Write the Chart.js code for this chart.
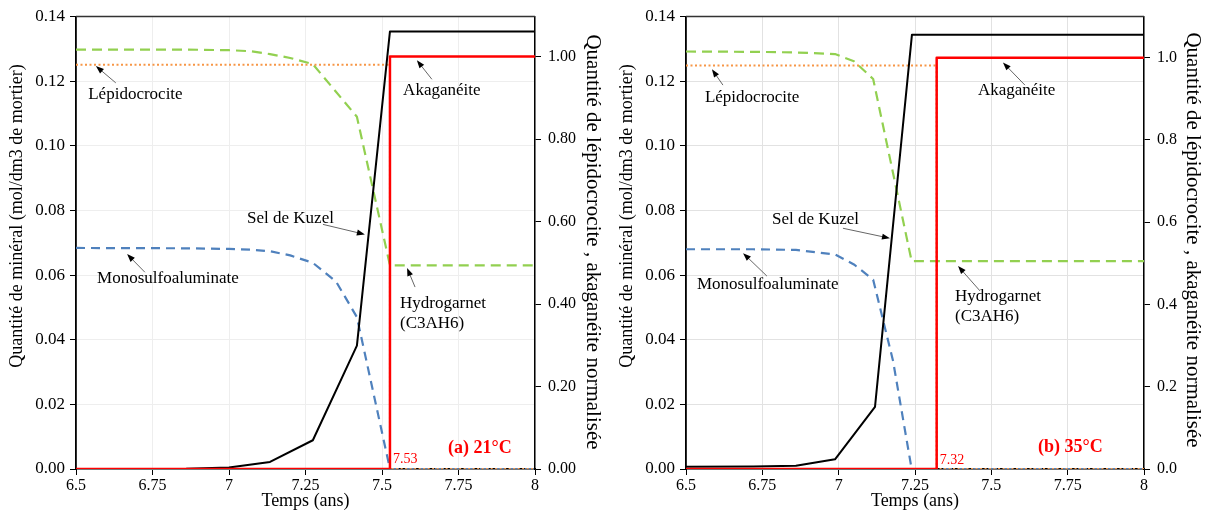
<!DOCTYPE html>
<html>
<head>
<meta charset="utf-8">
<script src="https://cdn.jsdelivr.net/npm/chart.js@4.4.1/dist/chart.umd.min.js"></script>
<style>
  html, body { margin: 0; padding: 0; background: #fff; }
  #wrap { position: relative; width: 1210px; height: 518px; }
  .panel { position: absolute; top: 0; width: 605px; height: 518px; }
</style>
</head>
<body>
<div id="wrap">
  <div class="panel" style="left:0"><canvas id="chartA" width="605" height="518"></canvas></div>
  <div class="panel" style="left:605px"><canvas id="chartB" width="605" height="518"></canvas></div>
</div>
<script>
// ---- axes ----
const xTicks = [6.5, 6.75, 7, 7.25, 7.5, 7.75, 8];
const leftTicks = [0, 0.02, 0.04, 0.06, 0.08, 0.10, 0.12, 0.14];
const rightTicks = [0, 0.2, 0.4, 0.6, 0.8, 1.0];

// ---- (a) 21°C ----
const kuzelA_t = [6.5, 6.86, 7.0, 7.134, 7.274, 7.418, 7.526, 8];
const kuzelA_q = [0, 0.0001, 0.0005, 0.0022, 0.0089, 0.0382, 0.1354, 0.1354];
const hydroA_t = [6.5, 6.86, 7.0, 7.07, 7.134, 7.2, 7.274, 7.418, 7.526, 8];
const hydroA_q = [0.1298, 0.1298, 0.1296, 0.1293, 0.1284, 0.1272, 0.1253, 0.1090, 0.0630, 0.0630];
const monoA_t = [6.5, 6.86, 7.0, 7.07, 7.134, 7.2, 7.274, 7.35, 7.418, 7.526, 8];
const monoA_q = [0.0684, 0.0683, 0.0681, 0.0679, 0.0674, 0.0661, 0.0638, 0.0580, 0.0470, 0, 0];
const lepidoA_t = [6.5, 7.526, 7.526, 8];
const lepidoA_q = [0.9805, 0.9805, 0, 0];
const akagA_t = [6.5, 7.526, 7.526, 8];
const akagA_q = [0, 0, 1, 1];

// ---- (b) 35°C ----
const kuzelB_t = [6.5, 6.72, 6.86, 6.988, 7.119, 7.24, 8];
const kuzelB_q = [0.0007, 0.0008, 0.0010, 0.0030, 0.0192, 0.1344, 0.1344];
const hydroB_t = [6.5, 6.72, 6.86, 6.988, 7.05, 7.113, 7.239, 8];
const hydroB_q = [0.1292, 0.1291, 0.1289, 0.1284, 0.1262, 0.1207, 0.0643, 0.0643];
const monoB_t = [6.5, 6.72, 6.86, 6.988, 7.05, 7.113, 7.178, 7.239, 8];
const monoB_q = [0.0680, 0.0680, 0.0678, 0.0664, 0.0633, 0.0586, 0.0335, 0, 0];
const lepidoB_t = [6.5, 7.321, 7.321, 8];
const lepidoB_q = [0.981, 0.981, 0, 0];
const akagB_t = [6.5, 7.321, 7.321, 8];
const akagB_q = [0, 0, 1, 1];

const serif = "'Liberation Serif', 'Times New Roman', serif";

function pts(t, q) {
    return t.map((x, i) => ({ x: x, y: q[i] }));
}

function arrow(ctx, x1, y1, x2, y2) {
    const a = Math.atan2(y2 - y1, x2 - x1);
    const c = Math.cos(a), s = Math.sin(a);
    ctx.strokeStyle = '#666';
    ctx.lineWidth = 1;
    ctx.beginPath();
    ctx.moveTo(x1, y1);
    ctx.lineTo(x2 - 6 * c, y2 - 6 * s);
    ctx.stroke();
    ctx.fillStyle = '#000';
    ctx.beginPath();
    ctx.moveTo(x2, y2);
    ctx.lineTo(x2 - 8 * c + 3 * s, y2 - 8 * s - 3 * c);
    ctx.lineTo(x2 - 8 * c - 3 * s, y2 - 8 * s + 3 * c);
    ctx.closePath();
    ctx.fill();
}

// notes + axis titles + top frame line
function framePlugin(notes, titles) {
    return {
        id: 'frame',
        afterDraw(chart) {
            const { ctx, chartArea: a, scales } = chart;
            ctx.save();
            ctx.strokeStyle = '#333';
            ctx.lineWidth = 1.5;
            ctx.beginPath();
            ctx.moveTo(a.left, a.top);
            ctx.lineTo(a.right, a.top);
            ctx.stroke();

            notes.forEach(n => {
                if (n.from) {
                    arrow(ctx,
                        scales.x.getPixelForValue(n.from[0]), scales.y.getPixelForValue(n.from[1]),
                        scales.x.getPixelForValue(n.to[0]), scales.y.getPixelForValue(n.to[1]));
                }
                ctx.fillStyle = n.color || '#000';
                ctx.font = (n.bold ? 'bold ' : '') + (n.size || 17) + 'px ' + serif;
                ctx.textAlign = 'left';
                ctx.textBaseline = 'middle';
                const px = scales.x.getPixelForValue(n.x);
                const py = scales.y.getPixelForValue(n.y);
                n.text.forEach((line, i) => ctx.fillText(line, px, py + i * 20));
            });

            ctx.fillStyle = '#000';
            ctx.textAlign = 'center';
            ctx.textBaseline = 'middle';
            titles.forEach(t => {
                ctx.save();
                ctx.translate(t.x, t.y);
                ctx.rotate(t.rot);
                ctx.font = t.size + 'px ' + serif;
                ctx.fillText(t.text, 0, 0);
                ctx.restore();
            });
            ctx.restore();
        }
    };
}

function makeChart(id, cfg) {
    const ctx = document.getElementById(id).getContext('2d');
    return new Chart(ctx, {
        type: 'line',
        data: {
            datasets: [
                { label: 'Akaganéite', data: pts(cfg.akag[0], cfg.akag[1]), yAxisID: 'y1',
                  borderColor: '#ff0000', borderWidth: 2.5 },
                { label: 'Sel de Kuzel', data: pts(cfg.kuzel[0], cfg.kuzel[1]), yAxisID: 'y',
                  borderColor: '#000000', borderWidth: 2 },
                { label: 'Lépidocrocite', data: pts(cfg.lepido[0], cfg.lepido[1]), yAxisID: 'y1',
                  borderColor: '#f79646', borderWidth: 2, borderDash: [2, 2.5] },
                { label: 'Hydrogarnet (C3AH6)', data: pts(cfg.hydro[0], cfg.hydro[1]), yAxisID: 'y',
                  borderColor: '#92d050', borderWidth: 2.2, borderDash: [10, 6] },
                { label: 'Monosulfoaluminate', data: pts(cfg.mono[0], cfg.mono[1]), yAxisID: 'y',
                  borderColor: '#4f81bd', borderWidth: 2.2, borderDash: [9, 6] },
            ],
        },
        options: {
            responsive: false,
            animation: false,
            layout: { padding: { top: 14, left: 0, right: 0, bottom: 0 } },
            elements: { point: { radius: 0 }, line: { fill: false, borderJoinStyle: 'round' } },
            plugins: { legend: { display: false }, tooltip: { enabled: false } },
            scales: {
                x: {
                    type: 'linear', min: 6.5, max: 8,
                    afterBuildTicks: s => { s.ticks = xTicks.map(v => ({ value: v })); },
                    ticks: { color: '#000', font: { family: serif, size: 16 }, padding: 1,
                             maxRotation: 0, autoSkip: false, callback: v => String(v) },
                    grid: { color: cfg.gridColor, tickColor: '#000', tickLength: 6 },
                    border: { color: '#000', width: 1.5 },
                    afterFit: s => { s.height = 49; },
                },
                y: {
                    position: 'left', min: 0, max: 0.14,
                    afterBuildTicks: s => { s.ticks = leftTicks.map(v => ({ value: v })); },
                    ticks: { color: '#000', font: { family: serif, size: 17 }, padding: 5,
                             callback: v => v.toFixed(2) },
                    grid: { color: cfg.gridColor, tickColor: '#000', tickLength: 6 },
                    border: { color: '#000', width: 1.8 },
                    afterFit: s => { s.width = cfg.leftWidth; },
                },
                y1: {
                    position: 'right', min: 0, max: cfg.rightMax,
                    afterBuildTicks: s => { s.ticks = rightTicks.map(v => ({ value: v })); },
                    ticks: { color: '#000', font: { family: serif, size: 16 }, padding: 7,
                             callback: v => v.toFixed(cfg.rightDecimals) },
                    grid: { drawOnChartArea: false, tickColor: '#000', tickLength: 6 },
                    border: { color: '#000', width: 1.5 },
                    afterFit: s => { s.width = cfg.rightWidth; },
                },
            },
        },
        plugins: [framePlugin(cfg.notes, cfg.titles)],
    });
}

const leftTitle = 'Quantité de minéral (mol/dm3 de mortier)';
const rightTitle = 'Quantité de lépidocrocite , akaganéite normalisée';

makeChart('chartA', {
    kuzel: [kuzelA_t, kuzelA_q], hydro: [hydroA_t, hydroA_q], mono: [monoA_t, monoA_q],
    lepido: [lepidoA_t, lepidoA_q], akag: [akagA_t, akagA_q],
    gridColor: '#eeeeee', leftWidth: 76, rightWidth: 70, rightMax: 1.097, rightDecimals: 2,
    notes: [
        { text: ['Lépidocrocite'], x: 6.54, y: 0.116, from: [6.63, 0.1195], to: [6.565, 0.1247] },
        { text: ['Akaganéite'], x: 7.569, y: 0.1172, from: [7.663, 0.1206], to: [7.614, 0.1265] },
        { text: ['Sel de Kuzel'], x: 7.059, y: 0.0775, from: [7.307, 0.0757], to: [7.444, 0.0726] },
        { text: ['Monosulfoaluminate'], x: 6.569, y: 0.0588, from: [6.725, 0.0609], to: [6.667, 0.0665] },
        { text: ['Hydrogarnet', '(C3AH6)'], x: 7.559, y: 0.0511, from: [7.608, 0.0563], to: [7.582, 0.0622] },
        { text: ['(a) 21°C'], x: 7.716, y: 0.0065, color: '#ff0000', bold: true, size: 18 },
        { text: [akagA_t[1].toFixed(2)], x: akagA_t[1] + 0.01, y: 0.0031, color: '#ff0000', size: 14 },
    ],
    titles: [
        { text: leftTitle, x: 17, y: 216, rot: -Math.PI / 2, size: 18 },
        { text: rightTitle, x: 593, y: 242, rot: Math.PI / 2, size: 21 },
        { text: 'Temps (ans)', x: 305.5, y: 501, rot: 0, size: 18 },
    ],
});

makeChart('chartB', {
    kuzel: [kuzelB_t, kuzelB_q], hydro: [hydroB_t, hydroB_q], mono: [monoB_t, monoB_q],
    lepido: [lepidoB_t, lepidoB_q], akag: [akagB_t, akagB_q],
    gridColor: '#e2e2e2', leftWidth: 81, rightWidth: 66, rightMax: 1.1, rightDecimals: 1,
    notes: [
        { text: ['Lépidocrocite'], x: 6.562, y: 0.1151, from: [6.621, 0.1188], to: [6.585, 0.1237] },
        { text: ['Akaganéite'], x: 7.456, y: 0.1172, from: [7.610, 0.1188], to: [7.538, 0.1258] },
        { text: ['Sel de Kuzel'], x: 6.782, y: 0.0772, from: [7.014, 0.0745], to: [7.168, 0.0714] },
        { text: ['Monosulfoaluminate'], x: 6.536, y: 0.0572, from: [6.765, 0.0597], to: [6.687, 0.0668] },
        { text: ['Hydrogarnet', '(C3AH6)'], x: 7.381, y: 0.0535, from: [7.463, 0.0551], to: [7.391, 0.0628] },
        { text: ['(b) 35°C'], x: 7.653, y: 0.0068, color: '#ff0000', bold: true, size: 18 },
        { text: [akagB_t[1].toFixed(2)], x: akagB_t[1] + 0.01, y: 0.0028, color: '#ff0000', size: 14 },
    ],
    titles: [
        { text: leftTitle, x: 22, y: 216, rot: -Math.PI / 2, size: 18 },
        { text: rightTitle, x: 588, y: 240, rot: Math.PI / 2, size: 21 },
        { text: 'Temps (ans)', x: 310, y: 501, rot: 0, size: 18 },
    ],
});
</script>
</body>
</html>
